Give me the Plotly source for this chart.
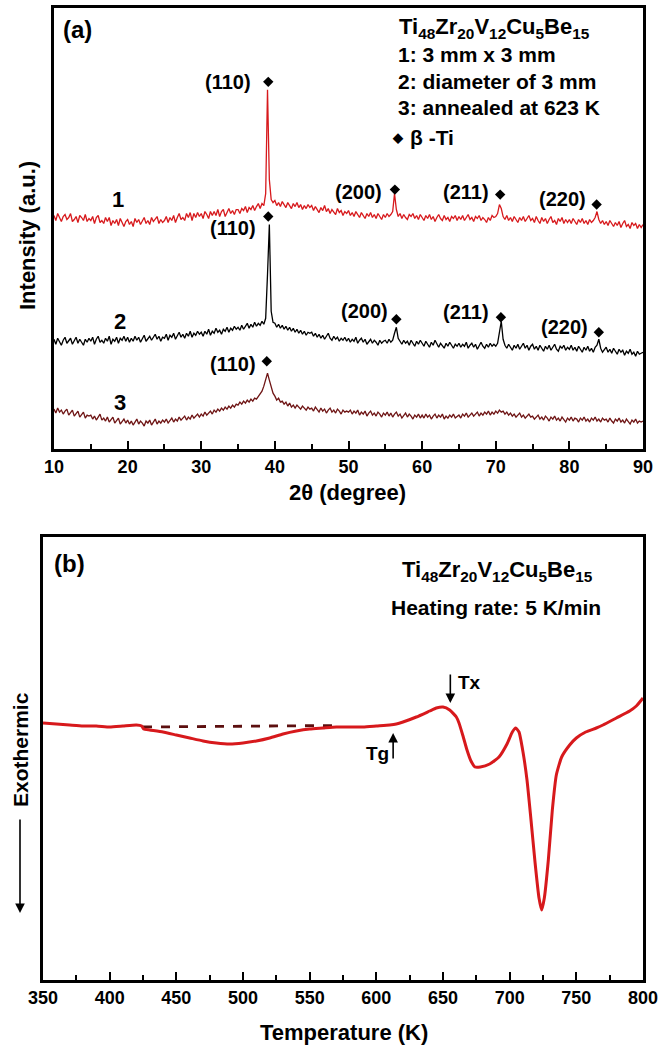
import plotly.graph_objects as go

W, H = 662, 1046
FONT = "Liberation Sans"

# ---------------- (a) XRD patterns ----------------
# diffractometer scan: 10-90 deg in 0.25 deg steps
scan_start, scan_step, scan_points = 10.0, 0.25, 321
two_theta = [scan_start + scan_step * i for i in range(scan_points)]

# pattern 1: 3 mm x 3 mm (each row = 5 degrees)
intensity_1 = [
    234,229,236,231,228,233,235,230,232,236,228,230,233,227,234,232,229,235,228,231,
    229,233,226,232,234,227,229,226,232,228,232,224,229,226,230,224,231,227,223,228,
    230,225,228,223,231,227,230,225,228,232,226,229,225,232,228,231,233,226,230,227,
    229,233,227,232,229,234,227,232,236,230,232,229,236,232,237,229,236,232,237,233,
    236,231,238,235,231,238,234,238,234,240,233,238,240,233,237,241,236,239,235,240,
    240,236,241,239,243,237,242,240,244,239,243,246,241,246,244,256,360,270,250,247,
    249,244,247,243,248,245,242,247,244,241,246,243,247,242,245,240,244,241,245,242,
    244,239,243,240,237,242,239,244,238,241,236,240,238,235,241,237,239,234,238,236,
    239,234,237,233,238,235,232,237,234,231,236,233,237,232,235,231,236,233,230,235,
    232,236,233,235,238,256,240,233,236,231,235,232,230,235,233,236,231,234,230,235,
    232,229,234,231,235,230,233,228,232,235,231,229,234,230,232,228,233,231,234,229,
    233,230,234,229,232,235,230,232,228,233,231,234,229,232,230,227,232,229,234,232,
    233,236,245,241,233,230,234,229,232,228,233,230,227,232,229,233,228,231,234,229,
    231,227,233,229,226,232,228,231,226,230,233,227,229,225,231,228,232,226,230,227,
    230,226,231,228,225,230,227,231,226,229,225,230,227,229,232,238,230,226,229,225,
    228,224,229,226,223,227,224,228,222,226,229,223,225,221,227,224,226,221,225,222,
    225]

# pattern 2: diameter of 3 mm
intensity_2 = [
    110,105,111,107,104,109,112,106,108,111,105,109,112,106,110,107,104,110,107,111,
    108,112,105,110,113,107,109,106,111,108,113,105,110,108,112,106,111,109,113,108,
    112,107,111,108,113,109,112,107,110,114,108,111,113,109,112,115,110,113,108,112,
    111,115,109,114,112,116,110,113,117,112,115,111,116,113,118,112,116,114,118,115,
    117,113,118,115,120,114,118,116,121,117,119,115,120,118,122,117,121,119,123,120,
    122,119,124,120,123,126,121,125,122,127,123,126,124,128,125,131,175,225,138,127,
    126,122,125,121,124,120,123,119,122,118,121,117,120,116,119,115,118,114,117,116,
    117,113,116,112,115,111,114,110,113,116,111,109,113,110,112,108,111,109,112,108,
    111,107,110,108,112,106,109,111,107,110,105,108,110,106,109,107,104,109,106,108,
    109,106,110,107,109,116,122,111,108,105,109,106,108,104,109,106,103,108,105,109,
    106,103,108,105,102,107,104,109,105,102,106,104,101,106,103,107,104,101,105,103,
    106,102,105,103,107,101,104,106,102,105,100,104,107,103,101,105,102,106,103,105,
    103,106,116,128,110,104,101,105,102,99,104,101,105,100,103,106,101,104,99,103,
    105,100,103,99,104,101,98,103,100,104,99,102,105,100,98,103,101,104,99,102,
    100,104,99,102,98,103,100,97,102,99,103,98,101,97,102,104,110,101,97,100,
    102,97,100,96,101,98,95,100,97,99,94,98,96,100,95,97,93,98,95,96,
    97]

# pattern 3: annealed at 623 K
intensity_3 = [
    40,36,41,37,39,35,38,40,34,37,39,33,36,38,32,35,37,31,34,33,
    34,30,33,29,32,35,29,31,28,32,27,30,32,26,29,31,25,28,30,26,
    29,25,28,24,27,30,25,28,26,23,28,26,29,24,27,30,25,28,26,29,
    27,30,26,29,31,27,30,28,32,29,31,33,29,32,30,34,31,33,35,32,
    35,33,37,34,36,38,35,39,37,40,38,41,39,42,40,43,41,44,42,45,
    44,47,45,48,46,49,47,50,48,51,50,53,55,58,63,70,76,69,61,56,
    53,49,51,47,48,45,47,43,46,42,44,41,44,42,40,43,41,39,42,40,
    41,38,42,39,37,41,38,40,36,39,41,37,39,36,40,38,35,39,37,38,
    37,39,35,38,36,39,34,37,35,38,33,36,38,34,36,33,37,35,32,36,
    34,37,33,36,32,35,37,33,35,31,34,36,32,35,33,30,34,32,35,31,
    34,31,35,32,34,30,33,35,31,34,32,35,30,33,31,34,32,35,31,33,
    34,31,35,33,36,32,34,36,33,35,37,33,36,34,37,35,38,34,37,35,
    38,36,39,37,38,35,37,34,36,33,35,32,34,36,32,34,31,33,35,32,
    33,30,32,34,30,32,29,33,31,28,32,30,33,29,31,28,32,30,27,31,
    29,32,28,31,30,27,31,29,32,28,30,27,31,29,32,28,30,27,31,29,
    30,27,31,28,26,30,28,31,27,29,26,30,28,25,29,27,30,26,28,27,
    28]

for s in (intensity_1, intensity_2, intensity_3):
    assert len(s) == scan_points, len(s)

# beta-Ti reflections marked on each pattern: (2theta, marker height, hkl)
peaks_1 = [(39.1, 368, "(110)"), (56.3, 260, "(200)"), (70.6, 255, "(211)"), (83.7, 245, "(220)")]
peaks_2 = [(39.1, 233, "(110)"), (56.5, 130, "(200)"), (70.7, 132, "(211)"), (84.0, 117, "(220)")]
peaks_3 = [(38.9, 88, "(110)")]

# ---------------- (b) DSC trace: (temperature K, heat flow a.u.) ----------------
dsc = [(350,0.4),(360,0.3),(370,0.2),(380,0.1),(390,0.1),(400,0.0),(410,0.1),(420,0.2),(424,0.1),(425.5,-0.2),
       (430,-0.3),(440,-0.5),(450,-0.8),(460,-1.1),(470,-1.4),(480,-1.6),(490,-1.7),(500,-1.6),(510,-1.4),(520,-1.1),
       (530,-0.7),(540,-0.4),(550,-0.2),(560,-0.1),(570,0.0),(580,0.0),(590,0.0),(600,0.1),(610,0.2),(615,0.3),
       (620,0.5),(630,1.0),(640,1.6),(645,1.9),(650,2.0),(655,1.7),(660,1.0),(662,0.4),(665,-0.9),(668,-2.3),
       (671,-3.4),(674,-4.0),(678,-4.0),(685,-3.7),(692,-3.0),(698,-1.7),(702,-0.5),(704.5,-0.1),(707,-0.5),(710,-2.5),
       (713,-5.3),(716,-9.3),(719,-13.5),(722,-17.1),(724,-18.3),(726,-17.1),(729,-13.3),(732,-8.3),(735,-4.8),(739,-3.0),
       (745,-1.8),(750,-1.1),(757,-0.5),(765,-0.1),(770,0.2),(780,0.9),(790,1.6),(795,2.1),(800,2.9)]
dsc_baseline = [(425, 0.0), (570, 0.15)]
tg_K, tx_K = 612.6, 655.5

x_ticks_a = [10, 20, 30, 40, 50, 60, 70, 80, 90]
x_ticks_b = [350, 400, 450, 500, 550, 600, 650, 700, 750, 800]


def unzip(pairs):
    return [p[0] for p in pairs], [p[1] for p in pairs]


fig = go.Figure()
for ys, col in [(intensity_1, "#d7191c"), (intensity_2, "#000000"), (intensity_3, "#6e1414")]:
    fig.add_trace(go.Scatter(x=two_theta, y=ys, mode="lines", line=dict(color=col, width=1.3),
                             xaxis="x", yaxis="y", hoverinfo="skip"))
for pk in (peaks_1, peaks_2, peaks_3):
    fig.add_trace(go.Scatter(x=[p[0] for p in pk], y=[p[1] for p in pk], mode="markers",
                             marker=dict(symbol="diamond", size=8, color="black"),
                             xaxis="x", yaxis="y", hoverinfo="skip"))

bx, by = unzip(dsc_baseline)
fig.add_trace(go.Scatter(x=bx, y=by, mode="lines", line=dict(color="#5c0f0f", width=2.8, dash="dash"),
                         xaxis="x2", yaxis="y2", hoverinfo="skip"))
dx, dy = unzip(dsc)
fig.add_trace(go.Scatter(x=dx, y=dy, mode="lines",
                         line=dict(color="#d7191c", width=3, shape="spline", smoothing=0.5),
                         xaxis="x2", yaxis="y2", hoverinfo="skip"))

ann = []


def txt(x, y, s, size=19, xanchor="center", xref="paper", yref="paper", angle=0):
    ann.append(dict(x=x, y=y, xref=xref, yref=yref, text=s, showarrow=False, xanchor=xanchor,
                    yanchor="middle", textangle=angle,
                    font=dict(family=FONT, size=size, color="black", weight="bold")))


def P(xp, yp):
    return xp / W, 1 - yp / H


# peak labels (placed left of each marker)
lab_a = [(peaks_1, [(37.03, 368), (54.82, 258), (69.36, 258), (82.53, 251)]),
         (peaks_2, [(37.7, 222), (55.6, 138), (69.4, 137), (82.8, 122)]),
         (peaks_3, [(37.7, 85)])]
for pk, pos in lab_a:
    for p, (lx, ly) in zip(pk, pos):
        txt(lx, ly, p[2], size=20, xanchor="right", xref="x", yref="y")

txt(18.7, 250, "1", size=22, xref="x", yref="y")
txt(18.96, 128, "2", size=22, xref="x", yref="y")
txt(18.96, 47, "3", size=22, xref="x", yref="y")

formula = "Ti<sub>48</sub>Zr<sub>20</sub>V<sub>12</sub>Cu<sub>5</sub>Be<sub>15</sub>"
txt(*P(77, 30), "(a)", size=24)
txt(*P(494, 28), formula, size=22)
txt(*P(396, 55), "1: 3 mm x 3 mm", size=21, xanchor="left")
txt(*P(396, 82), "2: diameter of 3 mm", size=21, xanchor="left")
txt(*P(396, 108), "3: annealed at 623 K", size=21, xanchor="left")
txt(*P(398, 138), "◆", size=13)
txt(*P(408, 138), "β -Ti", size=21, xanchor="left")
txt(*P(348, 492), "2θ (degree)", size=22)
txt(*P(27, 236), "Intensity (a.u.)", size=22, angle=-90)

txt(*P(69, 563), "(b)", size=24)
txt(*P(498, 571), formula, size=22)
txt(*P(496, 607), "Heating rate: 5 K/min", size=21)
txt(*P(344, 1032), "Temperature (K)", size=22)
txt(*P(20, 750), "Exothermic", size=21, angle=-90)
txt(669.8, 4.5, "Tx", size=19, xref="x2", yref="y2")
txt(600.6, -2.6, "Tg", size=19, xref="x2", yref="y2")

arrow = dict(showarrow=True, arrowhead=2, arrowsize=1.2, arrowwidth=1.6, arrowcolor="black", text="")
ann.append(dict(x=tx_K, y=2.4, ax=tx_K, ay=5.4, xref="x2", yref="y2", axref="x2", ayref="y2", **arrow))
ann.append(dict(x=tg_K, y=-0.6, ax=tg_K, ay=-3.3, xref="x2", yref="y2", axref="x2", ayref="y2", **arrow))
ex, ey = P(20, 913)
ann.append(dict(x=ex, y=ey, ax=0, ay=-95, xref="paper", yref="paper", **arrow))

axis_common = dict(showline=True, mirror=True, linecolor="black", linewidth=2.5, showgrid=False,
                   zeroline=False, automargin=False)
tickfont = dict(family=FONT, size=18, color="black", weight="bold")

fig.update_layout(
    width=W, height=H, autosize=False, margin=dict(l=0, r=0, t=0, b=0, pad=0, autoexpand=False),
    paper_bgcolor="white", plot_bgcolor="white", showlegend=False,
    xaxis=dict(domain=[54 / W, 643 / W], range=[10, 90], anchor="y", ticks="inside", ticklen=8, tickwidth=2,
               tickcolor="black", tickvals=x_ticks_a, tickfont=tickfont,
               minor=dict(ticks="inside", ticklen=5, tickwidth=1.5, tickcolor="black", dtick=5, tick0=15),
               **axis_common),
    yaxis=dict(domain=[1 - 449 / H, 1 - 8 / H], range=[0, 442], anchor="x", showticklabels=False, ticks="",
               **axis_common),
    xaxis2=dict(domain=[43 / W, 643 / W], range=[350, 800], anchor="y2", ticks="inside", ticklen=8, tickwidth=2,
                tickcolor="black", tickvals=x_ticks_b, tickfont=tickfont,
                minor=dict(ticks="inside", ticklen=5, tickwidth=1.5, tickcolor="black", dtick=25, tick0=375),
                **axis_common),
    yaxis2=dict(domain=[1 - 980 / H, 1 - 537 / H], range=[-25.3, 19.0], anchor="x2", showticklabels=False,
                ticks="", **axis_common),
    annotations=ann,
)

fig.write_html("out.html", config={"responsive": False, "displayModeBar": False},
               post_script="document.body.style.margin='0';document.body.style.overflow='hidden';")
